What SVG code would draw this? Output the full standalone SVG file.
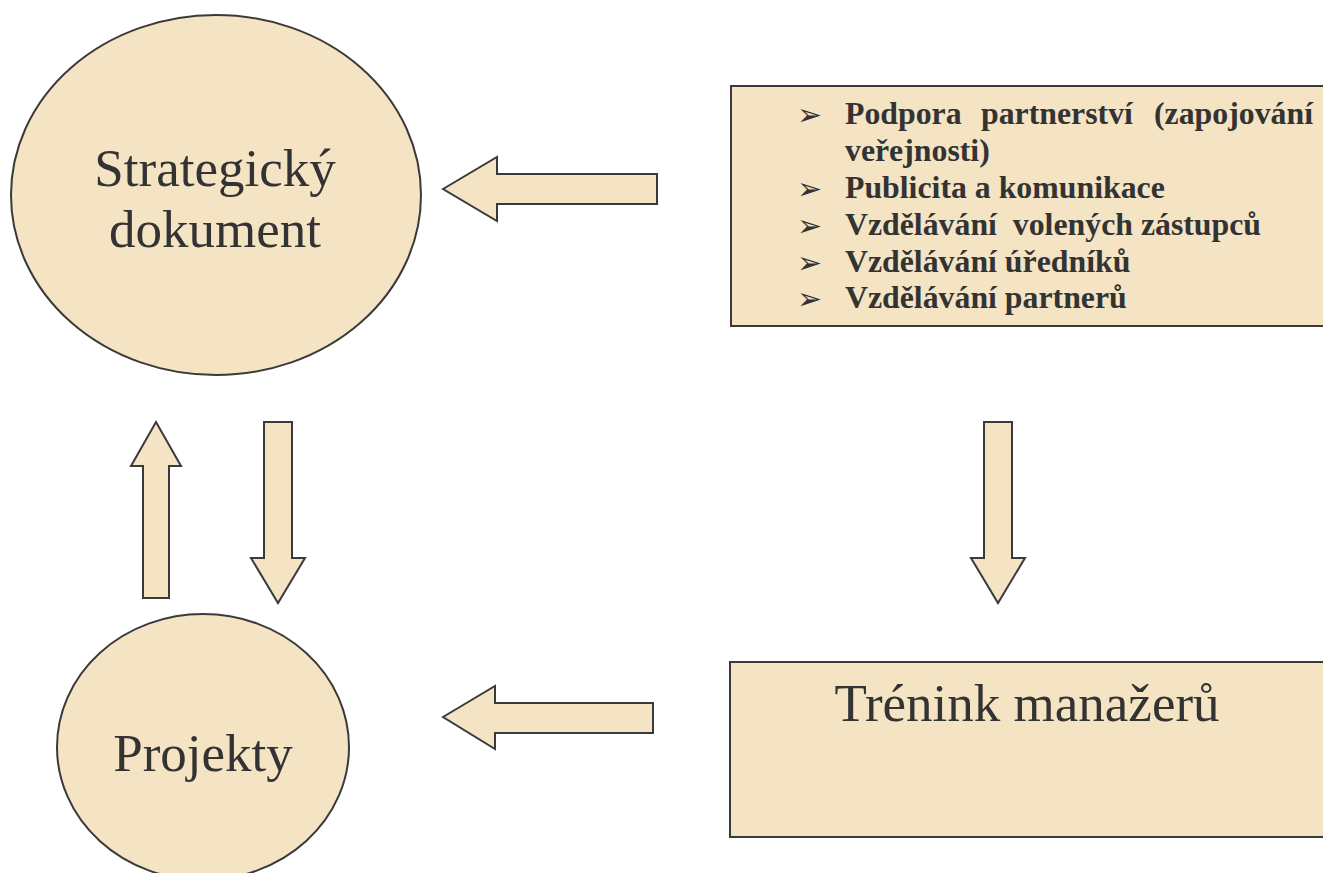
<svg xmlns="http://www.w3.org/2000/svg" width="1323" height="873" viewBox="0 0 1323 873">
<style>
.shape{fill:#F4E4C4;stroke:#3a3a3a;stroke-width:2}
.big{font-family:"Liberation Serif","Times New Roman",serif;font-size:53px;fill:#333;text-anchor:middle}
.item{font-family:"Liberation Serif","Times New Roman",serif;font-size:31.8px;font-weight:bold;fill:#333}
.bul{font-family:"DejaVu Sans",sans-serif;font-size:30px;fill:#333}
</style>
<rect width="1323" height="873" fill="#ffffff"/>
<g id="strategicky-dokument">
<ellipse class="shape" cx="216" cy="195" rx="205" ry="180"/>
<text class="big" x="215" y="186">Strategický</text>
<text class="big" x="215" y="247">dokument</text>
</g>
<g id="projekty">
<ellipse class="shape" cx="203" cy="747" rx="146" ry="133"/>
<text class="big" x="203" y="771">Projekty</text>
</g>
<g id="aktivity">
<rect class="shape" x="731" y="86" width="600" height="240"/>
<text class="bul" x="797" y="125">➢</text>
<text class="item" x="845" y="124">Podpora</text>
<text class="item" x="981" y="124">partnerství</text>
<text class="item" x="1313" y="124" text-anchor="end">(zapojování</text>
<text class="item" x="845" y="161">veřejnosti)</text>
<text class="bul" x="797" y="199">➢</text>
<text class="item" x="845" y="198">Publicita a komunikace</text>
<text class="bul" x="797" y="236">➢</text>
<text class="item" x="845" y="235" xml:space="preserve">Vzdělávání  volených zástupců</text>
<text class="bul" x="797" y="273">➢</text>
<text class="item" x="845" y="272">Vzdělávání úředníků</text>
<text class="bul" x="797" y="309">➢</text>
<text class="item" x="845" y="308">Vzdělávání partnerů</text>
</g>
<g id="trenink-manazeru">
<rect class="shape" x="730" y="662" width="600" height="175"/>
<text class="big" x="1027" y="721">Trénink manažerů</text>
</g>
<g id="connectors">
<polygon class="shape" points="443,189 497,157 497,174 657,174 657,204 497,204 497,221"/>
<polygon class="shape" points="443,717 495,686 495,703 653,703 653,733 495,733 495,749"/>
<polygon class="shape" points="156,422 181,466 169,466 169,598 143,598 143,466 131,466"/>
<polygon class="shape" points="264,422 292,422 292,558 305,558 278,603 251,558 264,558"/>
<polygon class="shape" points="984,422 1012,422 1012,558 1025,558 998,603 971,558 984,558"/>
</g>
</svg>
